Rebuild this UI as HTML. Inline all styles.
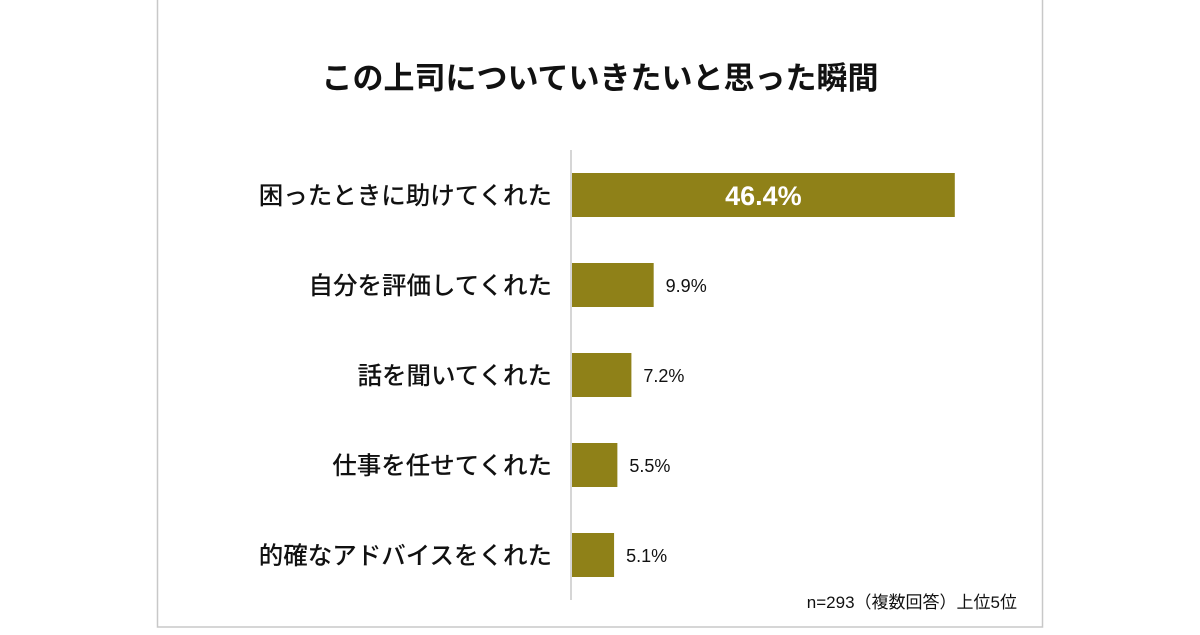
<!DOCTYPE html>
<html><head><meta charset="utf-8"><style>
body{margin:0;width:1200px;height:630px;background:#fff;overflow:hidden}
svg text{font-family:"Liberation Sans","Noto Sans CJK JP",sans-serif}
</style></head><body>
<svg width="1200" height="630">
<rect x="157.5" y="-1" width="885" height="628" fill="#fff" stroke="#c8c8c8" stroke-width="1.5"/>
<text x="600" y="89" text-anchor="middle" font-size="31" font-weight="bold" fill="#111">この上司についていきたいと思った瞬間</text>
<line x1="571" y1="150" x2="571" y2="600" stroke="#c8c8c8" stroke-width="1.5"/>
<g id="bars"></g>
<text x="1017" y="608" text-anchor="end" font-size="17" fill="#111">n=293（複数回答）上位5位</text>
</svg>
<script>
const categories=["困ったときに助けてくれた","自分を評価してくれた","話を聞いてくれた","仕事を任せてくれた","的確なアドバイスをくれた"];
const values=[46.4,9.9,7.2,5.5,5.1];
const x0=572, scale=8.25, y0=195, step=90, bh=44;
const xs=v=>x0+v*scale, ys=i=>y0+i*step;
const g=document.getElementById('bars'), NS='http://www.w3.org/2000/svg';
categories.forEach((c,i)=>{
  const r=document.createElementNS(NS,'rect');
  r.setAttribute('x',x0);r.setAttribute('y',ys(i)-bh/2);
  r.setAttribute('width',xs(values[i])-x0);r.setAttribute('height',bh);
  r.setAttribute('fill','#8f8118');
  
  
  g.appendChild(r);
  const l=document.createElementNS(NS,'text');
  l.setAttribute('x',552);l.setAttribute('y',ys(i)+9);
  l.setAttribute('text-anchor','end');l.setAttribute('font-size','24.5');l.setAttribute('font-weight','500');l.setAttribute('fill','#111');
  l.textContent=c;
  
  
  g.appendChild(l);
  const v=document.createElementNS(NS,'text');
  v.textContent=values[i].toFixed(1)+'%';
  if(i===0){v.setAttribute('x',(x0+xs(values[i]))/2);v.setAttribute('text-anchor','middle');v.setAttribute('font-size','27');v.setAttribute('font-weight','bold');v.setAttribute('fill','#fff');v.setAttribute('y',ys(i)+10);}
  else{v.setAttribute('x',xs(values[i])+12);v.setAttribute('font-size','18');v.setAttribute('fill','#111');v.setAttribute('y',ys(i)+7);}
  
  
  g.appendChild(v);
});
</script>
</body></html>
